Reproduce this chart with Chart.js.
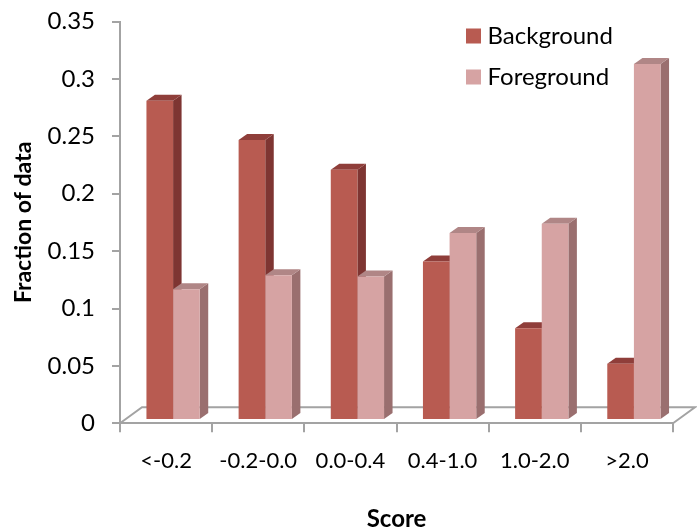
<!DOCTYPE html>
<html>
<head>
<meta charset="utf-8">
<script src="https://cdn.jsdelivr.net/npm/chart.js@4/dist/chart.umd.min.js"></script>
<style>
  html, body { margin: 0; padding: 0; background: #ffffff; }
  #wrap { width: 697px; height: 531px; }
</style>
</head>
<body>
<div id="wrap"><canvas id="chart" width="697" height="531"></canvas></div>
<script>
// Score bins and the fraction of data falling in each
const scoreBins = ['<-0.2', '-0.2-0.0', '0.0-0.4', '0.4-1.0', '1.0-2.0', '>2.0'];
const backgroundFraction = [0.278, 0.244, 0.218, 0.138, 0.080, 0.049];
const foregroundFraction = [0.114, 0.126, 0.125, 0.163, 0.171, 0.310];
const valueTicks = ['0', '0.05', '0.1', '0.15', '0.2', '0.25', '0.3', '0.35'];

// Look of the extruded columns
const FONT = 'Lato, "Noto Sans", sans-serif';
const AXIS_GREY = '#a3a3a3';
const faces = [
  { front: '#b85b51', side: '#7e3532', top: '#8f3e3a' },  // Background
  { front: '#d6a3a3', side: '#9a6f6f', top: '#b08686' }   // Foreground
];
const barDepth = { dx: 8.5, dy: -6 };     // receding edge of each column
const barInset = { dx: 7, dy: -3.3 };     // columns sit a little back from the floor's front edge
const floorDepth = { dx: 22, dy: -16 };   // depth of the floor plate

const solidColumns = {
  id: 'solidColumns',
  beforeDatasetsDraw(chart) {
    const { ctx, chartArea } = chart;
    // floor outline: back edge and the two receding sides
    ctx.save();
    ctx.strokeStyle = AXIS_GREY;
    ctx.lineWidth = 2;
    ctx.beginPath();
    ctx.moveTo(chartArea.left, chartArea.bottom);
    ctx.lineTo(chartArea.left + floorDepth.dx, chartArea.bottom + floorDepth.dy);
    ctx.lineTo(chartArea.right + floorDepth.dx, chartArea.bottom + floorDepth.dy);
    ctx.lineTo(chartArea.right, chartArea.bottom);
    ctx.stroke();
    ctx.restore();

    // side and top faces, painted before the Chart.js front faces
    ctx.save();
    ctx.translate(barInset.dx, barInset.dy);
    const n = chart.data.labels.length;
    for (let i = 0; i < n; i++) {
      for (let d = 0; d < chart.data.datasets.length; d++) {
        const bar = chart.getDatasetMeta(d).data[i];
        const { x, y, base, width } = bar.getProps(['x', 'y', 'base', 'width'], true);
        const l = x - width / 2, r = x + width / 2;
        ctx.fillStyle = faces[d].side;
        ctx.beginPath();
        ctx.moveTo(r, y);
        ctx.lineTo(r + barDepth.dx, y + barDepth.dy);
        ctx.lineTo(r + barDepth.dx, base + barDepth.dy);
        ctx.lineTo(r, base);
        ctx.closePath();
        ctx.fill();
        ctx.fillStyle = faces[d].top;
        ctx.beginPath();
        ctx.moveTo(l, y);
        ctx.lineTo(l + barDepth.dx, y + barDepth.dy);
        ctx.lineTo(r + barDepth.dx, y + barDepth.dy);
        ctx.lineTo(r, y);
        ctx.closePath();
        ctx.fill();
      }
    }
    // the translation stays in place while the front faces are drawn
  },
  afterDatasetsDraw(chart) {
    chart.ctx.restore();
  },
  afterLayout(chart) {
    // legend block in the upper right of the plot
    const lg = chart.legend;
    const w = lg.width, h = lg.height;
    lg.left = 454.5;
    lg.top = 7;
    lg.right = lg.left + w + 40;
    lg.bottom = lg.top + h;
  }
};

new Chart(document.getElementById('chart'), {
  type: 'bar',
  data: {
    labels: scoreBins,
    datasets: [
      {
        label: 'Background',
        data: backgroundFraction,
        backgroundColor: faces[0].front,
        borderWidth: 0,
        clip: false,
        categoryPercentage: 0.578,
        barPercentage: 1.0
      },
      {
        label: 'Foreground',
        data: foregroundFraction,
        backgroundColor: faces[1].front,
        borderWidth: 0,
        clip: false,
        categoryPercentage: 0.578,
        barPercentage: 1.0
      }
    ]
  },
  options: {
    responsive: false,
    animation: false,
    events: [],
    layout: { padding: { top: 21.5, right: 24, left: 0, bottom: 0 } },
    plugins: {
      tooltip: { enabled: false },
      legend: {
        position: 'chartArea',
        align: 'start',
        labels: {
          usePointStyle: true,
          pointStyle: 'rect',
          boxWidth: 4,
          boxHeight: 15,
          padding: 17,
          color: '#000000',
          font: { family: FONT, size: 24 }
        }
      }
    },
    scales: {
      x: {
        offset: true,
        border: { display: true, color: AXIS_GREY, width: 2 },
        grid: { display: true, drawOnChartArea: false, drawTicks: true, tickLength: 9, color: AXIS_GREY, lineWidth: 2, offset: true },
        ticks: { color: '#000000', padding: 15, maxRotation: 0, autoSkip: false, font: { family: FONT, size: 22 } },
        title: { display: true, text: 'Score', color: '#000000', padding: { top: 0, bottom: 0 }, font: { family: FONT, size: 24, weight: 'bold', lineHeight: 1 } },
        afterFit(scale) { scale.height = 107.7; }
      },
      y: {
        min: 0,
        max: 0.35,
        border: { display: true, color: AXIS_GREY, width: 2 },
        grid: { display: true, drawOnChartArea: false, drawTicks: true, tickLength: 8, color: AXIS_GREY, lineWidth: 2 },
        ticks: {
          stepSize: 0.05,
          color: '#000000',
          padding: 17,
          font: { family: FONT, size: 24 },
          callback: (v, i) => valueTicks[i]
        },
        title: { display: true, text: 'Fraction of data', color: '#000000', padding: { top: 10, bottom: 0 }, font: { family: FONT, size: 23, weight: 'bold', lineHeight: 1.2 } },
        afterFit(scale) {
          scale.width = 120;
          // the plot's top margin already leaves room for the top tick label
          scale.paddingTop = 0;
          scale.paddingBottom = 0;
        }
      }
    }
  },
  plugins: [solidColumns]
});
</script>
</body>
</html>
